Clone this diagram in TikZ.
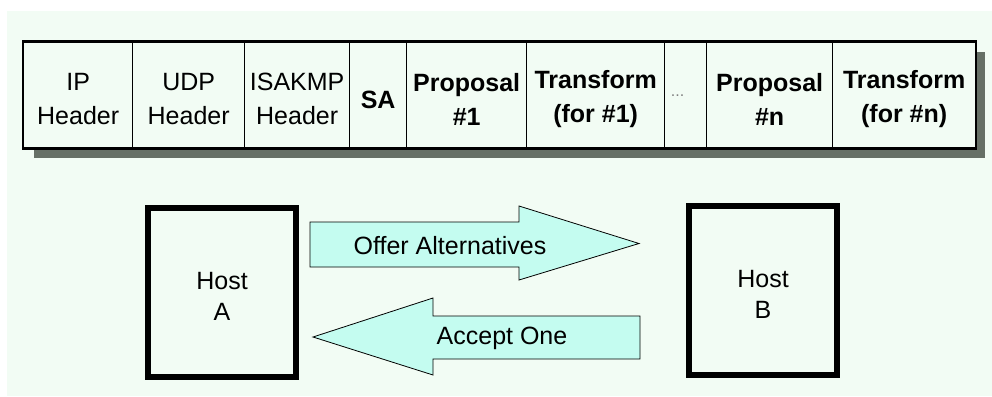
\documentclass[tikz,border=0pt]{standalone}
\usepackage{fontspec}
\setmainfont{Liberation Sans}
\definecolor{panel}{RGB}{242,252,244}
\definecolor{shadowcol}{RGB}{102,112,102}
\definecolor{arrowfill}{RGB}{196,252,240}
\begin{document}
\begin{tikzpicture}[x=1pt,y=-1pt,
  cell/.style={draw, line width=1.3pt, minimum height=106pt, inner sep=0pt, anchor=west},
  celltext/.style={align=center, inner sep=0pt, font=\fontsize{25}{34}\selectfont},
  boldtext/.style={celltext, font=\fontsize{25}{34}\selectfont\bfseries},
  host/.style={draw, line width=6pt, minimum width=148pt, minimum height=169pt, inner sep=0pt},
  hosttext/.style={align=center, inner sep=0pt, font=\fontsize{25}{31}\selectfont},
  bigarrow/.style={draw, line width=0.8pt, fill=arrowfill, line join=miter},
  arrowtext/.style={inner sep=0pt, font=\fontsize{25}{30}\selectfont}
]
% canvas and backdrop
\useasboundingbox (0,0) rectangle (992,396);
\fill[panel] (7,11) rectangle (992,396);

% packet layout with its drop shadow
\fill[shadowcol] (34,52) rectangle (985,158);
\fill[panel] (23,42) rectangle (975,148);
\node[cell, minimum width=109pt] (ip)    at (23,95)  {};
\node[cell, minimum width=112pt] (udp)   at (132,95) {};
\node[cell, minimum width=105pt] (isa)   at (244,95) {};
\node[cell, minimum width=57pt]  (sa)    at (349,95) {};
\node[cell, minimum width=120pt] (prop1) at (406,95) {};
\node[cell, minimum width=138pt] (tr1)   at (526,95) {};
\node[cell, minimum width=42pt]  (dots)  at (664,95) {};
\node[cell, minimum width=126pt] (propn) at (706,95) {};
\node[cell, minimum width=143pt] (trn)   at (832,95) {};
\draw[line width=2pt] (ip.north west) rectangle (trn.south east);

\node[celltext] at ([yshift=-4pt]ip.center)    {IP\\Header};
\node[celltext] at ([yshift=-4pt]udp.center)   {UDP\\Header};
\node[celltext] at ([yshift=-4pt]isa.center)   {ISAKMP\\Header};
\node[boldtext] at ([yshift=-5pt]sa.center)    {SA};
\node[boldtext] at ([yshift=-4pt]prop1.center) {Proposal\\\#1};
\node[boldtext] at ([yshift=-4pt]tr1.center)   {Transform\\(for \#1)};
\node[inner sep=0pt, text=gray, font=\fontsize{16}{18}\selectfont] at ([xshift=-8pt,yshift=-1pt]dots.center) {...};
\node[boldtext] at ([yshift=-4pt]propn.center) {Proposal\\\#n};
\node[boldtext] at ([yshift=-4pt]trn.center)   {Transform\\(for \#n)};

% the two hosts
\node[host] (hostA) at (222,292.5) {};
\node[host] (hostB) at (763,290.5) {};
\node[hosttext] at ([yshift=-4pt]hostA.center) {Host\\A};
\node[hosttext] at ([yshift=-4pt]hostB.center) {Host\\B};

% block arrows between the hosts
\coordinate (offerTail)  at ([xshift=11pt]hostA.east |- 0,244.5);
\coordinate (offerTip)   at ([xshift=-47pt]hostB.west |- 0,243.5);
\coordinate (acceptTail) at ([xshift=-46pt]hostB.west |- 0,337.5);
\coordinate (acceptTip)  at ([xshift=14pt]hostA.east |- 0,337);

\draw[bigarrow] ([yshift=22.5pt]offerTail) -- (519,222) -- (519,206) -- (offerTip)
  -- (519,280) -- (519,267) -- ([yshift=-22.5pt]offerTail) -- cycle;
\draw[bigarrow] ([yshift=21.5pt]acceptTail) -- (433,316) -- (433,298) -- (acceptTip)
  -- (433,375) -- (433,359) -- ([yshift=-21.5pt]acceptTail) -- cycle;

\node[arrowtext] (offer)  at (450,246) {Offer Alternatives};
\node[arrowtext] (accept) at (502,338) {Accept One};
\end{tikzpicture}
\end{document}
